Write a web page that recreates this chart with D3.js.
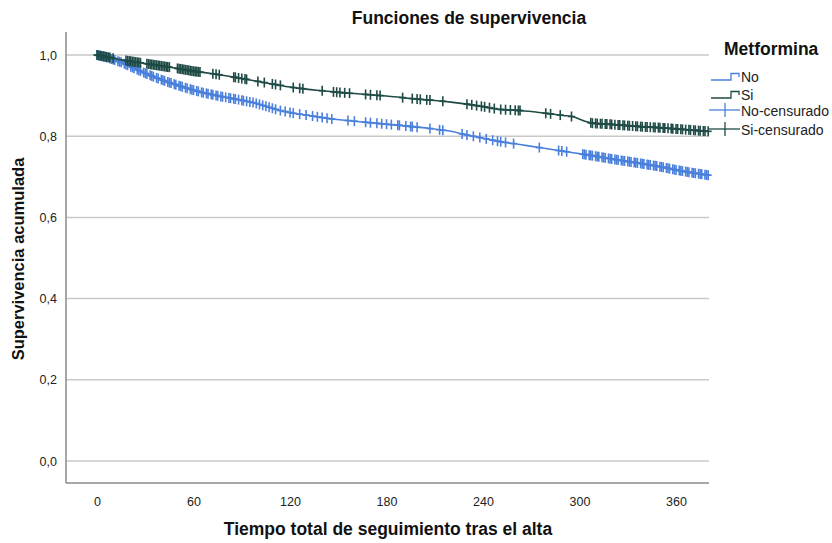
<!DOCTYPE html>
<html><head><meta charset="utf-8">
<script src="https://cdn.jsdelivr.net/npm/d3@7"></script>
<style>body{margin:0;background:#fff;font-family:Arial,"Liberation Sans",sans-serif}</style>
</head><body><div id="chart"></div>
<script>
const groups = ["No","Si"];
const xTicks = [0,60,120,180,240,300,360];
const yTicks = [0,0.2,0.4,0.6,0.8,1.0];
const yTickLabels = ["0,0","0,2","0,4","0,6","0,8","1,0"];

const noTimes = [0,5,10,15,20,25,30,36,45,56,65,77,88,98,113,123,135,145,160,176,190,207,220,230,240,250,262,275,290,305,320,338,350,360,370,380];
const noSurv  = [1,0.995,0.989,0.982,0.973,0.964,0.955,0.945,0.932,0.918,0.908,0.898,0.890,0.882,0.864,0.856,0.849,0.843,0.837,0.831,0.826,0.819,0.812,0.803,0.795,0.787,0.780,0.772,0.763,0.754,0.744,0.733,0.725,0.717,0.710,0.704];
const siTimes = [0,5,10,15,20,30,40,50,60,70,80,90,100,110,120,130,140,150,160,170,180,190,200,210,220,230,240,250,260,270,280,290,296,300,304,308,320,330,340,350,360,370,380];
const siSurv  = [1,0.996,0.992,0.988,0.985,0.979,0.973,0.967,0.960,0.955,0.949,0.942,0.935,0.928,0.921,0.916,0.912,0.908,0.905,0.902,0.899,0.895,0.891,0.888,0.884,0.879,0.873,0.866,0.864,0.861,0.856,0.851,0.848,0.842,0.836,0.832,0.829,0.826,0.823,0.821,0.818,0.815,0.812];

const noCensor = [0,1,2,3,4,5,6,8,9,10,11,13,14,15,17,18,19,21,22,23,25,26,27,29,30,31,33,34,35,37,38,40,41,42,44,45,46,48,49,51,52,53,55,56,58,59,60,62,63,65,66,68,69,71,72,74,75,77,78,80,82,83,85,86,88,90,91,93,95,97,99,101,103,105,107,109,111,114,117,120,122,126,130,134,137,140,143,146,156,160,167,170,174,177,180,183,187,188,192,195,196,199,207,213,215,227,230,234,238,242,246,249,251,254,259,275,287,289,292,302,303,304,306,307,308,310,311,312,314,315,316,318,319,320,322,323,324,326,327,328,330,331,332,334,335,336,338,339,340,342,343,344,346,347,348,350,351,352,354,355,356,358,359,360,362,363,364,366,367,368,370,371,372,374,375,376,378,379,380];
const siCensor = [0,1,2,3,4,5,6,7,8,10,18,19,20,21,22,23,24,25,26,27,31,32,33,34,35,36,37,38,39,40,41,42,43,44,45,50,51,52,53,54,55,56,57,58,59,60,61,62,63,64,72,74,76,85,86,88,90,92,93,100,104,109,111,114,122,126,128,140,147,149,151,154,157,167,170,174,176,190,196,199,201,205,207,215,230,233,236,239,241,244,247,251,254,257,260,262,263,279,282,288,295,307,308,310,311,313,314,316,317,319,320,322,324,325,327,328,330,331,333,335,336,338,339,341,342,344,346,347,349,350,352,353,355,357,358,360,361,363,364,366,368,369,371,372,374,375,377,378,380];

const colors = {No:"#4a80dc", Si:"#1f4b46"};
const W=832,H=543;
const svg = d3.select("#chart").append("svg").attr("width",W).attr("height",H);
const x = d3.scaleLinear().domain([-19.3,380.5]).range([66,709]);
const y = d3.scaleLinear().domain([0,1]).range([461,55]);
const frameTop = 32, frameBottom = 483;
const FONT = "Arial, 'Liberation Sans', sans-serif";

svg.append("g").selectAll("line").data(yTicks).join("line")
  .attr("x1",x.range()[0]).attr("x2",x.range()[1])
  .attr("y1",d=>y(d)).attr("y2",d=>y(d))
  .attr("stroke","#c9c9c9").attr("stroke-width",1.5);

svg.append("line").attr("x1",66).attr("x2",66).attr("y1",frameTop).attr("y2",frameBottom).attr("stroke","#8a8a8a").attr("stroke-width",1.5);
svg.append("line").attr("x1",66).attr("x2",709).attr("y1",frameBottom).attr("y2",frameBottom).attr("stroke","#8a8a8a").attr("stroke-width",1.5);

const xAxis = svg.append("g").attr("transform",`translate(0,${frameBottom})`)
  .call(d3.axisBottom(x).tickValues(xTicks).tickSize(0).tickPadding(14).tickFormat(d3.format("d")));
xAxis.select(".domain").remove();
xAxis.selectAll("text").attr("font-size",12.5).attr("fill","#222").attr("font-family",FONT);
const yAxis = svg.append("g").attr("transform",`translate(66,0)`)
  .call(d3.axisLeft(y).tickValues(yTicks).tickSize(0).tickPadding(9).tickFormat((d,i)=>yTickLabels[i]));
yAxis.select(".domain").remove();
yAxis.selectAll("text").attr("font-size",12.5).attr("fill","#222").attr("font-family",FONT);

function series(times,surv){return times.map((t,i)=>({t:t,s:surv[i]}));}
const data = {No:series(noTimes,noSurv), Si:series(siTimes,siSurv)};
const censor = {No:noCensor, Si:siCensor};
const line = d3.line().x(d=>x(d.t)).y(d=>y(d.s)).curve(d3.curveMonotoneX);
const bis = d3.bisector(d=>d.t).right;
function survAt(arr,t){
  const i=Math.min(Math.max(1,bis(arr,t)),arr.length-1);
  const a=arr[i-1], b=arr[i];
  const f=(t-a.t)/(b.t-a.t||1);
  return a.s+(b.s-a.s)*Math.max(0,Math.min(1,f));
}

["No","Si"].forEach(g=>{
  svg.append("path").datum(data[g]).attr("d",line).attr("fill","none")
    .attr("stroke",colors[g]).attr("stroke-width",1.6);
  const cg = svg.append("g").attr("stroke",colors[g]).attr("stroke-width",1.6);
  cg.selectAll("line.v").data(censor[g]).join("line").attr("class","v")
    .attr("x1",d=>x(d)).attr("x2",d=>x(d))
    .attr("y1",d=>y(survAt(data[g],d))-5).attr("y2",d=>y(survAt(data[g],d))+5);
  cg.selectAll("line.h").data(censor[g]).join("line").attr("class","h")
    .attr("x1",d=>x(d)-3.5).attr("x2",d=>x(d)+3.5)
    .attr("y1",d=>y(survAt(data[g],d))).attr("y2",d=>y(survAt(data[g],d)));
});

svg.append("text").attr("x",469).attr("y",24).attr("text-anchor","middle").attr("font-family",FONT)
  .attr("font-size",17.5).attr("font-weight","bold").attr("fill","#111").text("Funciones de supervivencia");
svg.append("text").attr("x",388).attr("y",535).attr("text-anchor","middle").attr("font-family",FONT)
  .attr("font-size",17.5).attr("font-weight","bold").attr("fill","#111").text("Tiempo total de seguimiento tras el alta");
svg.append("text").attr("transform","translate(24,259) rotate(-90)").attr("text-anchor","middle").attr("font-family",FONT)
  .attr("font-size",16.5).attr("font-weight","bold").attr("fill","#111").text("Supervivencia acumulada");

const lg = svg.append("g").attr("font-family",FONT);
lg.append("text").attr("x",724).attr("y",55).attr("font-size",17.5).attr("font-weight","bold").attr("fill","#111").text("Metformina");
const legItems = [
  {label:"No", g:"No", type:"step", y:80},
  {label:"Si", g:"Si", type:"step", y:98},
  {label:"No-censurado", g:"No", type:"cens", y:110},
  {label:"Si-censurado", g:"Si", type:"cens", y:129}
];
legItems.forEach(it=>{
  if(it.type==="step"){
    lg.append("path").attr("d",`M711,${it.y}H731V${it.y-6.5}H739V${it.y-3}`)
      .attr("fill","none").attr("stroke",colors[it.g]).attr("stroke-width",1.3);
    lg.append("text").attr("x",741).attr("y",it.y+1.5).attr("font-size",14).attr("fill","#222").text(it.label);
  } else {
    lg.append("line").attr("x1",709).attr("x2",740).attr("y1",it.y).attr("y2",it.y).attr("stroke",colors[it.g]).attr("stroke-width",1.3);
    lg.append("line").attr("x1",725).attr("x2",725).attr("y1",it.y-7).attr("y2",it.y+7).attr("stroke",colors[it.g]).attr("stroke-width",1.3);
    lg.append("text").attr("x",741).attr("y",it.y+5.5).attr("font-size",14).attr("fill","#222").text(it.label);
  }
});
</script></body></html>
